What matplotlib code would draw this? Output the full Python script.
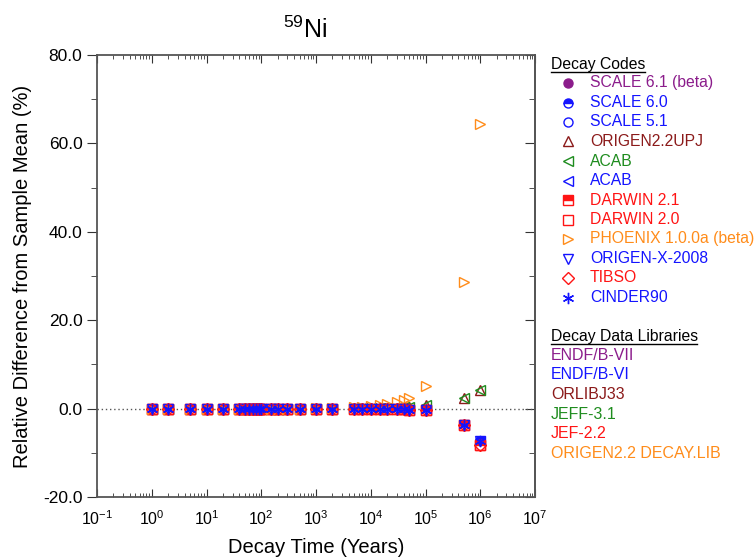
import matplotlib
matplotlib.use("Agg")
import matplotlib.pyplot as plt
from matplotlib.lines import Line2D
from matplotlib.ticker import FixedLocator, LogLocator, NullFormatter

plt.rcParams['font.family'] = ['Liberation Sans', 'DejaVu Sans']
plt.rcParams['mathtext.fontset'] = 'custom'
plt.rcParams['mathtext.rm'] = 'Liberation Sans'
plt.rcParams['mathtext.it'] = 'Liberation Sans:italic'
plt.rcParams['mathtext.bf'] = 'Liberation Sans:bold'
plt.rcParams['mathtext.default'] = 'regular'

# decay times (years)
times = [1, 2, 5, 10, 20, 40, 50, 60, 70, 80, 90, 100, 150, 200, 300, 500,
         1e3, 2e3, 5e3, 7e3, 1e4, 1.5e4, 2e4, 3e4, 4e4, 5e4, 1e5, 5e5, 1e6]

# relative difference from sample mean (%)
blue_vals = [0.0, 0.0, 0.0, 0.0, 0.0, 0.0, 0.0, 0.0, 0.0, 0.0, 0.0, 0.0, 0.0, 0.0, 0.0, 0.0,
             0.0, 0.0, -0.02, -0.03, -0.05, -0.07, -0.1, -0.15, -0.2, -0.25, -0.4, -3.6, -7.3]
red_vals = [0.0, 0.0, 0.0, 0.0, 0.0, 0.0, 0.0, 0.0, 0.0, 0.0, 0.0, 0.0, 0.0, 0.0, 0.0, 0.0,
            0.0, 0.0, -0.02, -0.03, -0.05, -0.07, -0.1, -0.15, -0.2, -0.25, -0.4, -3.7, -8.2]
jeff_vals = [0.0, 0.0, 0.0, 0.0, 0.0, 0.0, 0.0, 0.0, 0.0, 0.0, 0.0, 0.0, 0.0, 0.0, 0.0, 0.0,
             0.0, 0.0, 0.05, 0.05, 0.1, 0.1, 0.15, 0.2, 0.3, 0.4, 0.9, 2.4, 4.3]
phoenix_vals = [0.0, 0.0, 0.0, 0.0, 0.0, 0.0, 0.0, 0.0, 0.0, 0.0, 0.0, 0.0, 0.0, 0.0, 0.0, 0.0,
                0.05, 0.1, 0.25, 0.35, 0.5, 0.75, 1.0, 1.5, 2.0, 2.5, 5.1, 28.6, 64.5]

PURPLE = '#8B1C8B'
BLUE = '#1414FF'
DKRED = '#8B1A1A'
GREEN = '#1E8C1E'
RED = '#FF1414'
ORANGE = '#FF8C1A'

# (label, marker, colour, fillstyle, values)
codes = [
    ("SCALE 6.1 (beta)", 'o', PURPLE, 'full', blue_vals),
    ("SCALE 6.0", 'o', BLUE, 'top', blue_vals),
    ("SCALE 5.1", 'o', BLUE, 'none', blue_vals),
    ("ORIGEN2.2UPJ", '^', DKRED, 'none', jeff_vals),
    ("ACAB", '<', GREEN, 'none', jeff_vals),
    ("ACAB", '<', BLUE, 'none', blue_vals),
    ("DARWIN 2.1", 's', RED, 'top', red_vals),
    ("DARWIN 2.0", 's', RED, 'none', red_vals),
    ("PHOENIX 1.0.0a (beta)", '>', ORANGE, 'none', phoenix_vals),
    ("ORIGEN-X-2008", 'v', BLUE, 'none', blue_vals),
    ("TIBSO", 'D', RED, 'none', red_vals),
    ("CINDER90", (6, 2, 0), BLUE, 'full', blue_vals),
]

libraries = [("ENDF/B-VII", PURPLE), ("ENDF/B-VI", BLUE), ("ORLIBJ33", DKRED),
             ("JEFF-3.1", GREEN), ("JEF-2.2", RED), ("ORIGEN2.2 DECAY.LIB", ORANGE)]

W, H = 755, 558
fig = plt.figure(figsize=(W / 100, H / 100), dpi=100)
ax = fig.add_axes([97 / W, 1 - 497 / H, (535 - 97) / W, (497 - 55) / H])

ax.axhline(0, color='#555555', linestyle=(0, (1, 2)), linewidth=1, zorder=1)

def marker_style(marker, color, fill, size):
    kw = dict(marker=marker, markersize=size, markeredgecolor=color, markeredgewidth=1.0,
              linestyle='none')
    if fill == 'none':
        kw['markerfacecolor'] = 'none'
    elif fill == 'full':
        kw['markerfacecolor'] = color
    else:
        kw['markerfacecolor'] = color
        kw['fillstyle'] = fill
        kw['markerfacecoloralt'] = 'white'
    return kw

def size_for(marker, base):
    if marker == 'D':
        return base * 0.95
    if isinstance(marker, tuple):
        return base * 1.25
    if marker in ('^', 'v', '<', '>'):
        return base * 1.1
    return base

for label, marker, color, fill, vals in codes:
    ax.plot(times, vals, zorder=3, **marker_style(marker, color, fill, size_for(marker, 6.5)))

ax.set_xscale('log')
ax.set_xlim(0.1, 1e7)
ax.set_ylim(-20, 80)
ax.xaxis.set_major_locator(LogLocator(base=10, numticks=20))
ax.xaxis.set_minor_locator(LogLocator(base=10, subs=range(2, 10), numticks=100))
ax.xaxis.set_minor_formatter(NullFormatter())
ax.yaxis.set_major_locator(FixedLocator([-20, 0, 20, 40, 60, 80]))
ax.yaxis.set_minor_locator(FixedLocator([-10, 10, 30, 50, 70]))
ax.set_yticklabels(["-20.0", "0.0", "20.0", "40.0", "60.0", "80.0"])

ax.tick_params(axis='x', which='both', direction='in', top=True, labelsize=11.5, color='#333333', pad=9)
ax.tick_params(axis='x', which='major', length=6)
ax.tick_params(axis='x', which='minor', length=3)
ax.tick_params(axis='y', which='both', direction='out', labelsize=12.5, color='#333333')
ax.tick_params(axis='y', which='major', length=7)
ax.tick_params(axis='y', which='minor', length=4)
for s in ax.spines.values():
    s.set_color('#555555')
    s.set_linewidth(1.3)

# right spine ticks pointing inward
ax_r = ax.secondary_yaxis('right')
ax_r.yaxis.set_major_locator(FixedLocator([-20, 0, 20, 40, 60, 80]))
ax_r.yaxis.set_minor_locator(FixedLocator([-10, 10, 30, 50, 70]))
ax_r.tick_params(axis='y', which='both', direction='in', labelright=False, color='#333333')
ax_r.tick_params(axis='y', which='major', length=7)
ax_r.tick_params(axis='y', which='minor', length=4)
ax_r.spines['right'].set_color('#555555')
ax_r.spines['right'].set_linewidth(1.3)

ax.set_xlabel("Decay Time (Years)", fontsize=14.5, labelpad=7)
ax.set_ylabel("Relative Difference from Sample Mean (%)", fontsize=14.5, labelpad=8)
fig.text(305 / W, 1 - 30 / H, r"$^{59}$Ni", fontsize=18, ha='center', va='center')

# legend, drawn by hand
def fx(px):
    return px / W

def fy(py):
    return 1 - py / H

def header(text, y, x_end):
    fig.text(fx(551), fy(y), text, fontsize=11.3, color='black', va='center')
    fig.add_artist(Line2D([fx(551), fx(x_end)], [fy(y + 8), fy(y + 8)], color='black',
                          linewidth=1, transform=fig.transFigure))

header("Decay Codes", 64, 645)
for i, (label, marker, color, fill, vals) in enumerate(codes):
    y = 83 + i * 19.5
    fig.add_artist(Line2D([fx(568)], [fy(y)], transform=fig.transFigure,
                          **marker_style(marker, color, fill, size_for(marker, 6.5))))
    fig.text(fx(590), fy(y), label, fontsize=11.3, color=color, va='center')

header("Decay Data Libraries", 336, 697)
for i, (label, color) in enumerate(libraries):
    fig.text(fx(551), fy(355 + i * 19.7), label, fontsize=11.5, color=color, va='center')

fig.savefig("out.png", dpi=100)
